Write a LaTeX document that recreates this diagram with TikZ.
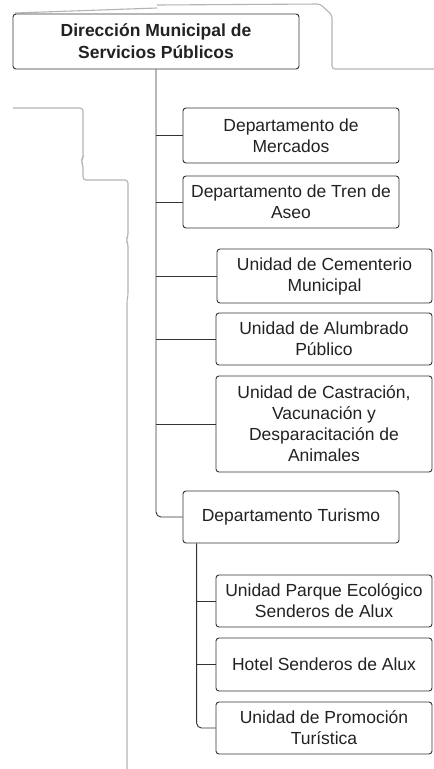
\documentclass[tikz,border=0pt]{standalone}
\usepackage{fontspec}
\setmainfont{Liberation Sans}
\usetikzlibrary{calc}
\definecolor{boxline}{HTML}{333333}
\definecolor{txt}{HTML}{222222}
\definecolor{faint}{HTML}{B4B4B4}
\tikzset{
  orgbox/.style={draw=boxline, line width=0.9pt, rounded corners=3pt, align=center,
    text=txt, inner sep=0pt, font=\fontsize{17.5}{21}\selectfont},
  conn/.style={draw=boxline, line width=0.9pt},
  bgline/.style={draw=faint, line width=1.1pt}
}
\begin{document}
\begin{tikzpicture}[x=1pt,y=-1pt]
\useasboundingbox[fill=white] (0,0) rectangle (434,769);
% faint background lines
\draw[bgline] (15,13) -- (157,8);
\draw[bgline, rounded corners=3pt] (157,5) -- (320,4) -- (332,15) -- (332,69) -- (434,69);
\draw[bgline, rounded corners=3pt] (13,108) -- (83,108) -- (83,158) -- (81,161) -- (83,165) -- (83,180) -- (128,180) -- (128,236) -- (126,240) -- (128,244) -- (128,296) -- (127,300) -- (127,769);
% boxes
\node[orgbox, minimum width=286pt, minimum height=55pt, font=\fontsize{17.5}{22}\selectfont\bfseries] (top) at (156,41.5) {Dirección Municipal de\\Servicios Públicos};
\node[orgbox, minimum width=216pt, minimum height=55pt] (merc) at (291,135.5) {Departamento de\\Mercados};
\node[orgbox, minimum width=216pt, minimum height=52pt] (tren) at (291,202) {Departamento de Tren de\\Aseo};
\node[orgbox, minimum width=215pt, minimum height=54pt] (cem) at (324.5,276) {Unidad de Cementerio\\Municipal};
\node[orgbox, minimum width=216pt, minimum height=52pt] (alum) at (324,339) {Unidad de Alumbrado\\Público};
\node[orgbox, minimum width=216pt, minimum height=96pt] (cast) at (324,424) {Unidad de Castración,\\Vacunación y\\Desparacitación de\\Animales};
\node[orgbox, minimum width=216pt, minimum height=52pt] (tur) at (291,517) {Departamento Turismo};
\node[orgbox, minimum width=216pt, minimum height=52pt] (parq) at (324,601) {Unidad Parque Ecológico\\Senderos de Alux};
\node[orgbox, minimum width=216pt, minimum height=53pt] (hotel) at (324,664.5) {Hotel Senderos de Alux};
\node[orgbox, minimum width=216pt, minimum height=52pt] (prom) at (324,728) {Unidad de Promoción\\Turística};
% connectors
\draw[conn, rounded corners=5pt] (top.south) |- (tur.west);
\draw[conn] (top.south |- merc.west) -- (merc.west);
\draw[conn] (top.south |- tren.west) -- (tren.west);
\draw[conn] (top.south |- cem.west) -- (cem.west);
\draw[conn] (top.south |- alum.west) -- (alum.west);
\draw[conn] (top.south |- cast.west) -- (cast.west);
\coordinate (tb) at ($(tur.south west)+(14,0)$);
\draw[conn, rounded corners=5pt] (tb) |- (prom.west);
\draw[conn] (tb |- parq.west) -- (parq.west);
\draw[conn] (tb |- hotel.west) -- (hotel.west);
\end{tikzpicture}
\end{document}
